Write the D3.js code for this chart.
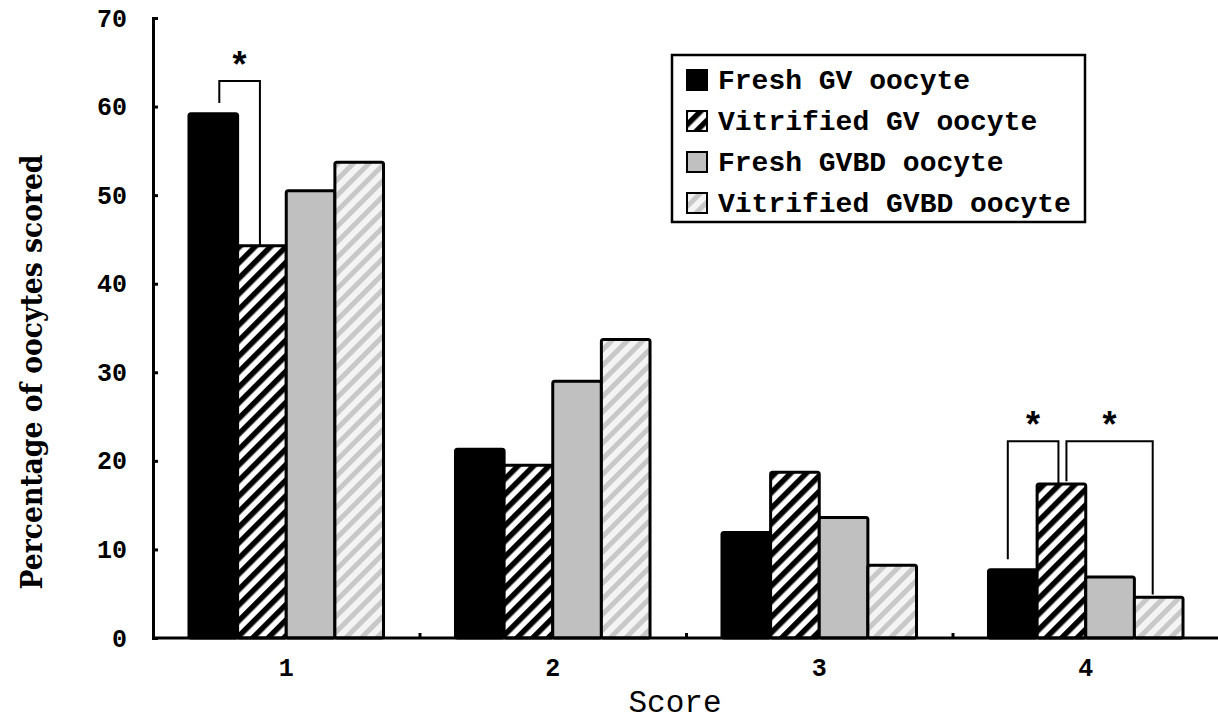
<!DOCTYPE html>
<html>
<head>
<meta charset="utf-8">
<script src="https://cdn.jsdelivr.net/npm/d3@7"></script>
<style>
  body { margin: 0; background: #fff; }
  svg { display: block; }
</style>
</head>
<body>
<div id="chart"></div>
<script>
// data
var categories = ["1", "2", "3", "4"];
var seriesNames = ["Fresh GV oocyte", "Vitrified GV oocyte", "Fresh GVBD oocyte", "Vitrified GVBD oocyte"];
var freshGV = [59.2, 21.3, 11.9, 7.7];
var vitrifiedGV = [44.3, 19.5, 18.7, 17.4];
var freshGVBD = [50.5, 29.0, 13.6, 6.9];
var vitrifiedGVBD = [53.7, 33.7, 8.2, 4.6];
var yTicks = [0, 10, 20, 30, 40, 50, 60, 70];
// significance brackets: category, bar a, bar b, bracket top value
var brackets = [
  { cat: "1", a: 0, b: 1, top: 62.9 },
  { cat: "4", a: 0, b: 1, top: 22.2 },
  { cat: "4", a: 1, b: 3, top: 22.2 }
];

var series = [freshGV, vitrifiedGV, freshGVBD, vitrifiedGVBD];
var fills = ["#000", "url(#hatchDark)", "#c0c0c0", "url(#hatchLight)"];

var W = 1218, H = 722;
var x0 = 153, x1 = 1219, yBase = 638, yTop = 18;

var svg = d3.select("#chart").append("svg")
  .attr("width", W).attr("height", H);

// hatch patterns
var defs = svg.append("defs");
var p1 = defs.append("pattern").attr("id", "hatchDark")
  .attr("patternUnits", "userSpaceOnUse").attr("width", 11).attr("height", 11)
  .attr("patternTransform", "rotate(45)");
p1.append("rect").attr("width", 11).attr("height", 11).attr("fill", "#fff");
p1.append("rect").attr("width", 5.5).attr("height", 11).attr("fill", "#000");

var p2 = defs.append("pattern").attr("id", "hatchLight")
  .attr("patternUnits", "userSpaceOnUse").attr("width", 11).attr("height", 11)
  .attr("patternTransform", "rotate(45)");
p2.append("rect").attr("width", 11).attr("height", 11).attr("fill", "#f4f4f4");
p2.append("rect").attr("width", 5).attr("height", 11).attr("fill", "#c8c8c8");

// scales
var xBand = d3.scaleBand().domain(categories).range([x0, x1])
  .paddingInner(0.27).paddingOuter(0.135);
var xInner = d3.scaleBand().domain(d3.range(seriesNames.length))
  .range([0, xBand.bandwidth()]);
var xLin = d3.scaleLinear().domain([0, categories.length]).range([x0, x1]);
var y = d3.scaleLinear().domain([0, 70]).range([yBase, yTop]);

// bars
series.forEach(function(vals, s) {
  svg.append("g").selectAll("rect")
    .data(vals)
    .enter().append("rect")
    .attr("x", function(d, i) { return xBand(categories[i]) + xInner(s); })
    .attr("y", function(d) { return y(d); })
    .attr("width", xInner.bandwidth())
    .attr("height", function(d) { return yBase - y(d); })
    .attr("rx", 2)
    .attr("fill", fills[s])
    .attr("stroke", "#000")
    .attr("stroke-width", 3);
});

// y axis
var yAxis = svg.append("g")
  .attr("transform", "translate(" + x0 + ",0)")
  .call(d3.axisLeft(y).tickValues(yTicks).tickSize(-5).tickPadding(26));
yAxis.select(".domain").attr("stroke-width", 3);
yAxis.selectAll(".tick line").attr("stroke-width", 3);
yAxis.selectAll("text")
  .style("font-family", "'Liberation Mono', monospace")
  .style("font-weight", "bold")
  .style("font-size", "25px")
  .attr("fill", "#000");

// x axis line with inward ticks at band edges
var xAxis = svg.append("g")
  .attr("transform", "translate(0," + yBase + ")")
  .call(d3.axisBottom(xLin).tickValues([1, 2, 3]).tickSize(-5).tickFormat(""));
xAxis.select(".domain").attr("stroke-width", 3).attr("d", "M" + x0 + ",0H" + x1);
xAxis.selectAll(".tick line").attr("stroke-width", 3);

// category labels
var xLab = svg.append("g")
  .attr("transform", "translate(0," + yBase + ")")
  .call(d3.axisBottom(xBand).tickSize(0).tickPadding(20));
xLab.select(".domain").remove();
xLab.selectAll("text")
  .style("font-family", "'Liberation Mono', monospace")
  .style("font-weight", "bold")
  .style("font-size", "25px")
  .attr("fill", "#000");

// axis titles
svg.append("text")
  .attr("transform", "translate(42,372) rotate(-90)")
  .attr("text-anchor", "middle")
  .attr("textLength", 435)
  .attr("lengthAdjust", "spacingAndGlyphs")
  .style("font-family", "'DejaVu Serif', serif")
  .style("font-weight", "bold")
  .style("font-size", "30px")
  .text("Percentage of oocytes scored");

svg.append("text")
  .attr("x", 675).attr("y", 712)
  .attr("text-anchor", "middle")
  .style("font-family", "'Liberation Mono', monospace")
  .style("font-size", "31px")
  .text("Score");

// significance brackets
function barCenter(cat, s) {
  return xBand(cat) + xInner(s) + xInner.bandwidth() / 2;
}
brackets.forEach(function(b) {
  var i = categories.indexOf(b.cat);
  var va = series[b.a][i], vb = series[b.b][i];
  var xa = barCenter(b.cat, b.a), xb = barCenter(b.cat, b.b);
  // nudge legs so two brackets sharing a bar don't overlap
  if (b.cat === "4" && b.b === 1) { xa -= 5; xb -= 3; }
  if (b.cat === "4" && b.a === 1) { xa += 5; xb -= 6; }
  if (b.cat === "1") { xa += 6; xb -= 2; }
  var ya = b.a === 0 ? y(va + 1.2) : y(va + 0.3);
  var yb = y(vb + (b.b === 1 ? 0 : 0.3));
  svg.append("path")
    .attr("d", "M" + xa + "," + ya + "V" + y(b.top) + "H" + xb + "V" + yb)
    .attr("fill", "none")
    .attr("stroke", "#000")
    .attr("stroke-width", 2);
  svg.append("text")
    .attr("x", (xa + xb) / 2)
    .attr("y", y(b.top) - 4)
    .attr("text-anchor", "middle")
    .style("font-family", "'Liberation Sans', sans-serif")
    .style("font-weight", "bold")
    .style("font-size", "36px")
    .text("*");
});

// legend
var legend = svg.append("g").attr("transform", "translate(672,55)");
legend.append("rect")
  .attr("width", 413).attr("height", 167)
  .attr("fill", "#fff").attr("stroke", "#000").attr("stroke-width", 2.5);
var rows = legend.selectAll("g.row")
  .data(seriesNames)
  .enter().append("g")
  .attr("class", "row")
  .attr("transform", function(d, i) { return "translate(15," + (25 + i * 41) + ")"; });
rows.append("rect")
  .attr("x", 0).attr("y", -10)
  .attr("width", 20).attr("height", 20)
  .attr("fill", function(d, i) { return fills[i]; })
  .attr("stroke", "#000").attr("stroke-width", 2);
rows.append("text")
  .attr("x", 31).attr("y", 9)
  .style("font-family", "'Liberation Mono', monospace")
  .style("font-weight", "bold")
  .style("font-size", "28px")
  .text(function(d) { return d; });
</script>
</body>
</html>
